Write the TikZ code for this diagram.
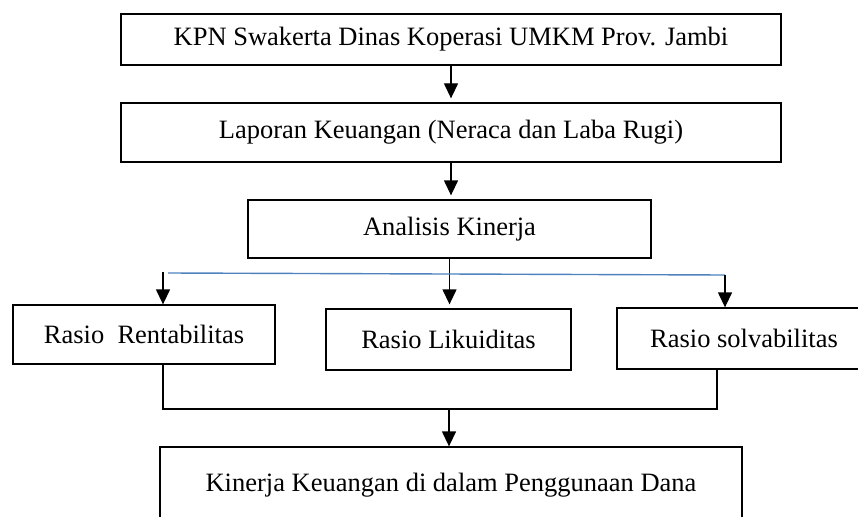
\documentclass[tikz,border=0pt]{standalone}
\usepackage{fontspec}
\setmainfont{Liberation Serif}
\usetikzlibrary{arrows.meta,calc}
\definecolor{lineblue}{HTML}{4F81BD}
\begin{document}
\begin{tikzpicture}[x=1pt,y=-1pt,
  box/.style={draw=black,line width=1.3pt,rectangle,inner sep=0pt,
    font=\fontsize{26.5}{32}\selectfont},
  arr/.style={draw=black,line width=1.3pt,-{Triangle[width=14pt,length=15pt]}},
  link/.style={draw=black,line width=1.3pt},
  bluelink/.style={draw=lineblue,line width=1.4pt}]
\clip (0,0) rectangle (858,516);
\node[box,minimum width=660pt,minimum height=51pt] (b1) at (451,39.5) {KPN Swakerta Dinas Koperasi UMKM Prov. Jambi};
\node[box,minimum width=660pt,minimum height=59pt] (b2) at (451,132.5) {Laporan Keuangan (Neraca dan Laba Rugi)};
\node[box,minimum width=403pt,minimum height=58pt] (b3) at (449.5,229) {Analisis Kinerja};
\node[box,minimum width=262pt,minimum height=59pt] (r) at (144,334.5) {Rasio\ \ Rentabilitas};
\node[box,minimum width=245pt,minimum height=61pt] (l) at (448.5,339.5) {Rasio Likuiditas};
\node[box,minimum width=254pt,minimum height=61pt] (s) at (744,338.5) {Rasio solvabilitas};
\node[box,minimum width=582pt,minimum height=76pt] (f) at (451,485) {Kinerja Keuangan di dalam Penggunaan Dana};
\coordinate (la) at (163,272);
\coordinate (bl) at (168,273);
\coordinate (br) at (725,275);
\coordinate (bk) at (449,409);
\coordinate (rk) at (717,409);
\draw[arr,shorten >=4pt] (b1.south) -- (b1.south |- b2.north);
\draw[arr,shorten >=4pt] (b2.south) -- (b2.south |- b3.north);
\draw[arr,shorten >=4pt] (b3.south) -- (b3.south |- l.north);
\draw[bluelink] (bl) -- (br);
\draw[arr] (la) -- (la |- r.north);
\draw[arr] (br) -- (br |- s.north);
\draw[link] (la |- r.south) -- (la |- bk) -- (rk) -- (rk |- s.south);
\draw[arr] (bk) -- (bk |- f.north);
\end{tikzpicture}
\end{document}
